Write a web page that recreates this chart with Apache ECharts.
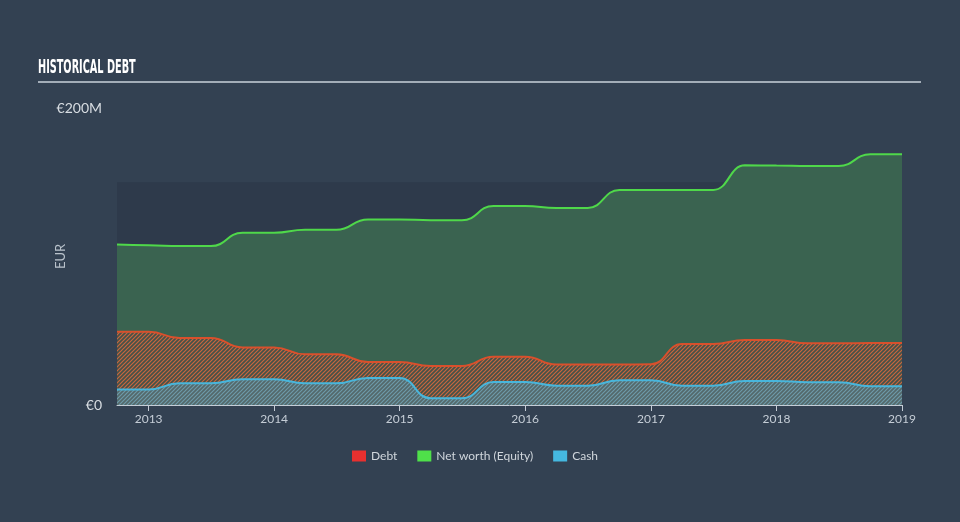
<!DOCTYPE html>
<html>
<head>
<meta charset="utf-8">
<script src="https://cdn.jsdelivr.net/npm/echarts@6/dist/echarts.min.js"></script>
<style>
html,body{margin:0;padding:0;background:#334152;}
#chart{width:960px;height:522px;}
</style>
</head>
<body>
<div id="chart"></div>
<script>
// Quarterly dates (reporting periods)
const dates = ['2012-10-01','2013-01-01','2013-04-01','2013-07-01','2013-10-01','2014-01-01','2014-04-01','2014-07-01','2014-10-01','2015-01-01','2015-04-01','2015-07-01','2015-10-01','2016-01-01','2016-04-01','2016-07-01','2016-10-01','2017-01-01','2017-04-01','2017-07-01','2017-10-01','2018-01-01','2018-04-01','2018-07-01','2018-10-01','2019-01-01'];
// values in EUR millions
const equity = [108,107.5,107,107,116,116,118,118,125,125,124.4,124.4,134,134,132.7,132.7,144.8,144.8,144.8,144.8,161.4,161.3,161,161,168.8,168.8];
const debt = [49.4,49.4,45.1,45.1,38.8,38.8,34.1,34.1,29,29,26.3,26.3,32.5,32.5,27.2,27.2,27.2,27.4,41,41,43.8,43.8,41.5,41.5,41.7,41.7];
const cash = [10.5,10.5,14.6,14.6,17.3,17.3,14.6,14.6,18.2,18.2,4.5,4.5,15.5,15.5,13,13,16.6,16.6,13,13,16.2,16.2,15.3,15.3,12.6,12.6];
const yTicks = [0, 200];
const plotBandTop = 150;

function pair(d, v){ return d.map((x,i)=>[x, v[i]]); }

function hatch(bg, line){
  const c = document.createElement('canvas');
  c.width = 4; c.height = 4;
  const g = c.getContext('2d');
  g.fillStyle = bg; g.fillRect(0,0,4,4);
  g.strokeStyle = line; g.lineWidth = 1.2;
  g.beginPath();
  g.moveTo(0,4); g.lineTo(4,0);
  g.moveTo(-1,1); g.lineTo(1,-1);
  g.moveTo(3,5); g.lineTo(5,3);
  g.stroke();
  return c;
}

const chart = echarts.init(document.getElementById('chart'));
const baseFont = 'Lato, "Open Sans", sans-serif';

chart.setOption({
  backgroundColor: '#334152',
  animation: false,
  textStyle: {fontFamily: baseFont},
  graphic: [
    {type:'text', left: 38, top: 58, scaleX: 0.54, style:{text:'HISTORICAL DEBT', fill:'#ffffff', font:'bold 20px "Liberation Sans Narrow", "DejaVu Sans Condensed", sans-serif'}},
    {type:'line', shape:{x1:38, y1:82, x2:921, y2:82}, style:{stroke:'#a3adb8', lineWidth:2}}
  ],
  legend: {
    left: 347, top: 445,
    icon: 'rect', itemWidth: 14, itemHeight: 11, itemGap: 20,
    textStyle: {color:'#d0d6dc', fontSize: 12, fontFamily: baseFont},
    data: [
      {name:'Debt', itemStyle:{color:'#e8302f'}},
      {name:'Net worth (Equity)', itemStyle:{color:'#4fe04a'}},
      {name:'Cash', itemStyle:{color:'#45b8e0'}}
    ]
  },
  grid: {left: 117, right: 58, top: 108, bottom: 117},
  xAxis: {
    type: 'time',
    min: dates[0], max: dates[dates.length-1],
    minInterval: 365*24*3600*1000, maxInterval: 366*24*3600*1000,
    axisLine: {show:true, lineStyle:{color:'#c5cdd6', width:1}},
    axisTick: {show:true, length:6, lineStyle:{color:'#c5cdd6'}},
    axisLabel: {color:'#c5cdd6', fontSize:12, margin:8, formatter:'{yyyy}', fontWeight:'normal', showMaxLabel:true},
    splitLine: {show:false}
  },
  yAxis: {
    type: 'value', min: yTicks[0], max: yTicks[1], interval: yTicks[1]-yTicks[0],
    name: 'EUR', nameLocation:'middle', nameGap: 50, nameRotate: 90, nameMoveOverlap: false,
    nameTextStyle: {color:'#b9c2cb', fontSize:13},
    axisLine:{show:false}, axisTick:{show:false}, splitLine:{show:false},
    axisLabel:{color:'#d8dde2', fontSize:14, margin:15, formatter: v => v===0 ? '€0' : '€'+v+'M'}
  },
  series: [
    {
      name: 'bg', type:'line', data: pair(dates, equity), z: 0, silent: true,
      showSymbol:false, lineStyle:{opacity:0}, legendHoverLink:false,
      markArea: {silent:true, itemStyle:{color:'#2e3a4b'}, data:[[{yAxis:0},{yAxis:plotBandTop}]]}
    },
    {
      name:'Net worth (Equity)', type:'line', data: pair(dates, equity), z: 2,
      smooth: 0.5, smoothMonotone:'x', showSymbol:false,
      itemStyle:{color:'#4fe04a'},
      lineStyle:{color:'#4fd84a', width:2},
      areaStyle:{color:'#3a6350', opacity:1}
    },
    {
      name:'Debt', type:'line', data: pair(dates, debt), z: 3,
      smooth: 0.5, smoothMonotone:'x', showSymbol:false,
      itemStyle:{color:'#e8302f'},
      lineStyle:{color:'#d9502c', width:2},
      areaStyle:{color:{image: hatch('rgba(72,78,70,0.85)', 'rgba(214,105,62,0.9)'), repeat:'repeat'}, opacity:1}
    },
    {
      name:'Cash', type:'line', data: pair(dates, cash), z: 4,
      smooth: 0.5, smoothMonotone:'x', showSymbol:false,
      itemStyle:{color:'#45b8e0'},
      lineStyle:{color:'#48b6dc', width:2},
      areaStyle:{color:{image: hatch('rgba(84,104,106,1)', 'rgba(112,160,176,0.9)'), repeat:'repeat'}, opacity:1}
    }
  ]
});
</script>
</body>
</html>
